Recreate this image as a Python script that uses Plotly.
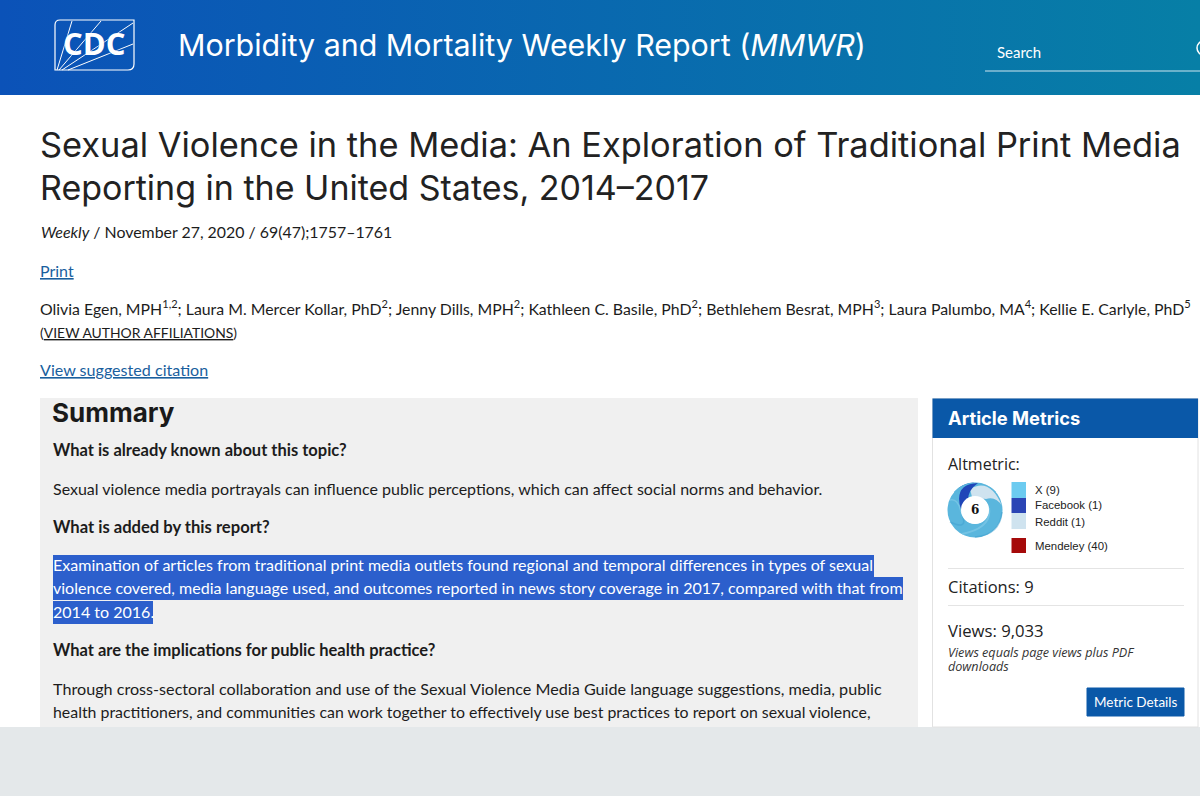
import plotly.graph_objects as go

W = 1200
H = 796

# altmetric numbers shown in the side card
altmetric_sources = ["X", "Facebook", "Reddit"]
altmetric_counts = [9, 1, 1]
altmetric_colors = ["#5ab6dd", "#1f45b8", "#cfe3ef"]
swatch_colors = ["#6ccbf0", "#2b45b5", "#cfe3ef"]
mendeley_count = 40
altmetric_score = 6
citations = 9
views = "9,033"

journal_name = "Morbidity and Mortality Weekly Report (<i>MMWR</i>)"
title_lines = [
    "Sexual Violence in the Media: An Exploration of Traditional Print Media",
    "Reporting in the United States, 2014–2017",
]
issue_line = "<i>Weekly</i> / November 27, 2020 / 69(47);1757–1761"
authors_line = (
    "Olivia Egen, MPH<sup>1,2</sup>; Laura M. Mercer Kollar, PhD<sup>2</sup>; "
    "Jenny Dills, MPH<sup>2</sup>; Kathleen C. Basile, PhD<sup>2</sup>; "
    "Bethlehem Besrat, MPH<sup>3</sup>; Laura Palumbo, MA<sup>4</sup>; "
    "Kellie E. Carlyle, PhD<sup>5</sup>"
)
selected_lines = [
    "Examination of articles from traditional print media outlets found regional and temporal differences in types of sexual",
    "violence covered, media language used, and outcomes reported in news story coverage in 2017, compared with that from",
    "2014 to 2016.",
]

BLUE = "#0a58a8"
LINK = "#1a5f9e"
INK = "#1c1c1c"
BODY = "Lato"
HEAD = "Inter"


def label(text, x, y, size, color=INK, family=BODY, anchor="left", shadow=None):
    font = dict(size=size, color=color, family=family)
    if shadow:
        font["shadow"] = shadow
    fig.add_annotation(x=x, y=y, text=text, showarrow=False, xref="x", yref="y",
                       xanchor=anchor, yanchor="middle", font=font, borderpad=0, borderwidth=0)


def box(x0, y0, x1, y1, fill, line=None):
    # panels sit below the traces so the donut stays on top of the card
    fig.add_shape(type="rect", x0=x0, y0=y0, x1=x1, y1=y1, fillcolor=fill, layer="below",
                  line=dict(color=line or fill, width=1 if line else 0))


def rule(x0, y0, x1, y1, color="#ffffff", width=1):
    fig.add_shape(type="line", x0=x0, y0=y0, x1=x1, y1=y1, line=dict(color=color, width=width))


def blade(path, fill=None, stroke=None, width=0, opacity=1):
    fig.add_shape(type="path", path=path, fillcolor=fill, opacity=opacity,
                  line=dict(color=stroke or "rgba(0,0,0,0)", width=width))


fig = go.Figure()

# header band with its left to right gradient
fig.add_trace(go.Scatter(
    x=[0, W, W, 0, 0], y=[0, 0, 95, 95, 0], mode="lines", line=dict(width=0),
    fill="toself", hoverinfo="skip", showlegend=False,
    fillgradient=dict(type="horizontal", colorscale=[[0, "#0b52b8"], [1, "#077fa6"]]),
))

# cdc logo
fig.add_shape(type="path", path="M 60 20 L 134 20 L 134 64 Q 134 70 128 70 L 55 70 L 55 25 Q 55 20 60 20 Z",
              line=dict(color="#ffffff", width=1.2))
rule(57, 70, 72, 21)
rule(59, 70, 101, 21)
rule(62, 70, 133, 23)
rule(68, 70, 133, 44)

# footer and panels
box(0, 727, W, H, "#e4e8ea")
box(40, 398, 918, 727, "#f0f0f0")
box(932.5, 398.5, 1198, 727, "#ffffff", "#e2e2e2")
box(932.5, 398.5, 1198, 438, BLUE)

# selected text
box(53, 555, 874, 577, "#2c5fcc")
box(53, 577, 903, 600, "#2c5fcc")
box(53, 601, 153, 624, "#2c5fcc")

# card bits
rule(948, 568.5, 1184, 568.5, "#e4e4e4")
rule(948, 605.5, 1184, 605.5, "#e4e4e4")
fig.add_shape(type="rect", x0=1087, y0=688, x1=1184, y1=716, fillcolor=BLUE, layer="below",
              line=dict(color=BLUE, width=1))
rule(985, 71, W, 71, "#cfe6ef", 1)
fig.add_shape(type="circle", x0=1197, y0=41, x1=1211, y1=55, line=dict(color="#ffffff", width=1.5))

# legend swatches
swatch_top = [482, 498, 513]
swatch_bottom = [498, 513, 529]
for name, n, c, y0, y1 in zip(altmetric_sources, altmetric_counts, swatch_colors, swatch_top, swatch_bottom):
    box(1011.5, y0, 1026, y1, c)
    label(f"{name} ({n})", 1035, (y0 + y1) / 2 + (1 if name == "Reddit" else 0) - 0.5, 11.4, "#222222", "Liberation Sans")
box(1011.5, 538, 1026, 553, "#a50a0a")
label(f"Mendeley ({mendeley_count})", 1035, 545.5, 11.4, "#222222", "Liberation Sans")

# altmetric donut
fig.add_trace(go.Pie(
    labels=altmetric_sources, values=altmetric_counts, sort=False, direction="clockwise", rotation=30,
    hole=0.5, textinfo="none", hoverinfo="label+value", showlegend=False,
    marker=dict(colors=altmetric_colors, line=dict(width=0)),
    domain=dict(x=[947.5 / W, 1002.5 / W], y=[1 - 537.5 / H, 1 - 482.5 / H]),
))

# swirl look of the altmetric badge on top of the pie wedges
blade("M 953.9 492.1 Q 962.2 482.5 975 482.5 Q 987.8 482.5 996.1 492.1 L 985 501.6 Q 981 497 975 497 Q 969 497 965 501.6 Z",
      fill=altmetric_colors[0])
blade("M 970 489 Q 990 477 1002 506 Q 996 496 986 499 L 972 497 Z", fill=altmetric_colors[2])
blade("M 961.7 512 Q 952 484 978 483 Q 968 490 968 500 Z", fill=altmetric_colors[1])
blade("M 1002 512 Q 1000 535 975 537", stroke="#3f9fcf", width=1.5, opacity=0.5)
blade("M 989 508 Q 992 528 962 534", stroke="#86cdea", width=2, opacity=0.6)
blade("M 963 517 Q 967 530 950 522", stroke="#3f9fcf", width=1.5, opacity=0.5)
blade("M 950 500 Q 958 498 961 512", stroke="#86cdea", width=1.5, opacity=0.6)
fig.add_shape(type="circle", x0=961, y0=496, x1=989, y1=524, fillcolor="#ffffff", line=dict(width=0))
label(f"<b>{altmetric_score}</b>", 975, 510, 12, "#111111", "DejaVu Serif", "center")

# header text
label("<b>CDC</b>", 94, 43, 31, "#ffffff", "Open Sans", "center", shadow="0 0 3px #0b52b8")
label(journal_name, 178, 45, 30.4, "#ffffff", HEAD)
label("Search", 997, 52, 15, "#ffffff", BODY)

# page text
label(title_lines[0], 40, 144, 34.4, "#222222", HEAD)
label(title_lines[1], 40, 187, 34, "#222222", HEAD)
label(issue_line, 41, 231, 15.9)
label("<u>Print</u>", 40, 270, 16, LINK)
label(authors_line, 40, 307.5, 15.85)
label("(<u>VIEW AUTHOR AFFILIATIONS</u>)", 40, 332, 13.9)
label("<u>View suggested citation</u>", 40, 369, 16.1, LINK)

label("<b>Summary</b>", 52, 412, 26, "#1a1a1a", HEAD)
label("<b>What is already known about this topic?</b>", 53, 450, 16.5)
label("Sexual violence media portrayals can influence public perceptions, which can affect social norms and behavior.", 53, 488, 16)
label("<b>What is added by this report?</b>", 53, 527, 16.6)
for line, y in zip(selected_lines, [564, 587, 611]):
    label(line, 53, y, 16.05, "#ffffff")
label("<b>What are the implications for public health practice?</b>", 53, 650, 16.5)
label("Through cross-sectoral collaboration and use of the Sexual Violence Media Guide language suggestions, media, public", 53, 688, 16.17)
label("health practitioners, and communities can work together to effectively use best practices to report on sexual violence,", 53, 711, 15.88)

# card text
label("<b>Article Metrics</b>", 948, 418, 18.3, "#ffffff", HEAD)
label("Altmetric:", 948, 464, 16, "#222222", "Open Sans")
label(f"Citations: {citations}", 948, 586, 16.5, "#222222", "Open Sans")
label(f"Views: {views}", 948, 630, 16.7, "#222222", "Open Sans")
label("<i>Views equals page views plus PDF</i>", 948, 652, 12.6, "#333333", "Open Sans")
label("<i>downloads</i>", 948, 666, 12.6, "#333333", "Open Sans")
label("Metric Details", 1135.5, 702, 13.5, "#ffffff", BODY, "center")

fig.update_xaxes(range=[0, W], visible=False, fixedrange=True)
fig.update_yaxes(range=[H, 0], visible=False, fixedrange=True)
fig.update_layout(width=W, height=H, margin=dict(l=0, r=0, t=0, b=0), paper_bgcolor="#ffffff",
                  plot_bgcolor="#ffffff", showlegend=False)

fig.write_html("out.html", config={"displayModeBar": False}, post_script="document.body.style.margin='0';")
